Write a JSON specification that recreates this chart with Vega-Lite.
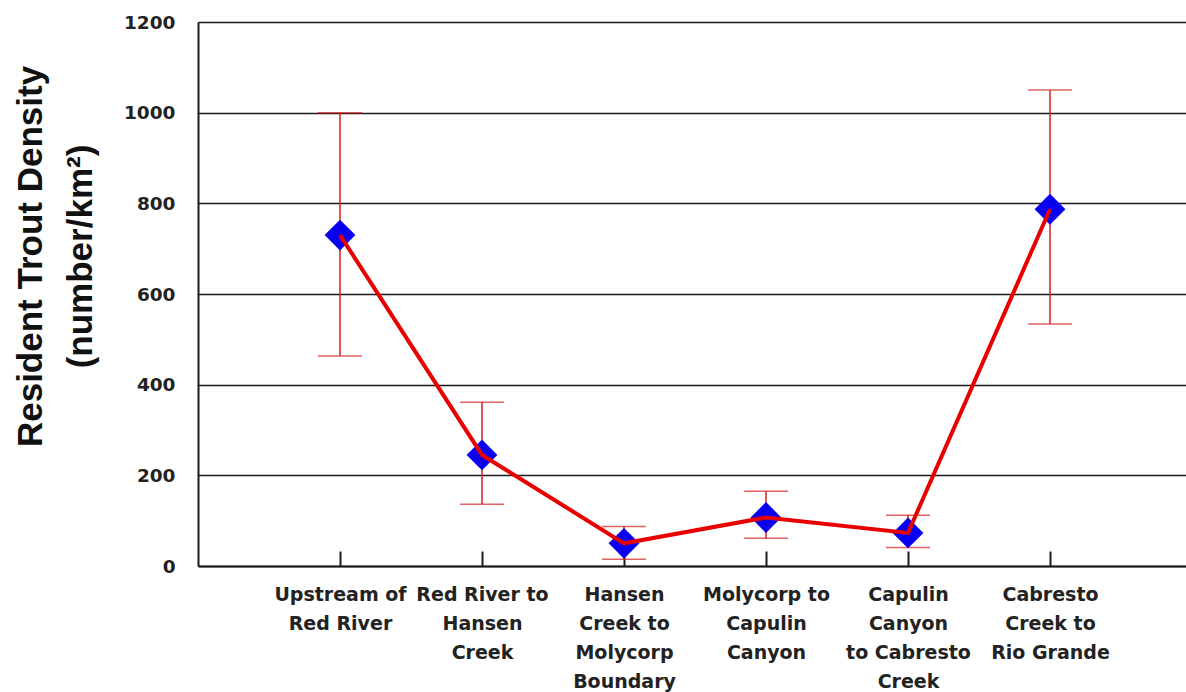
{
  "$schema": "https://vega.github.io/schema/vega-lite/v6.json",
  "width": 988,
  "height": 544,
  "autosize": "none",
  "padding": {"left": 198, "top": 22, "right": 0, "bottom": 126},
  "background": "white",
  "config": {
    "view": {"stroke": null},
    "font": "DejaVu Sans"
  },
  "data": {
    "values": [
      {"site": "Upstream of|Red River", "density": 730, "lo": 463, "hi": 1000},
      {"site": "Red River to|Hansen|Creek", "density": 245, "lo": 136, "hi": 361},
      {"site": "Hansen|Creek to|Molycorp|Boundary", "density": 50, "lo": 15, "hi": 87},
      {"site": "Molycorp to|Capulin|Canyon", "density": 107, "lo": 61, "hi": 165},
      {"site": "Capulin|Canyon|to Cabresto|Creek", "density": 73, "lo": 41, "hi": 112},
      {"site": "Cabresto|Creek to|Rio Grande", "density": 787, "lo": 534, "hi": 1050}
    ]
  },
  "encoding": {
    "x": {
      "field": "site",
      "type": "nominal",
      "sort": null,
      "scale": {"type": "point", "padding": 0.9789, "align": 0.5108},
      "axis": {
        "title": null,
        "labelExpr": "split(datum.label, '|')",
        "labelAngle": 0,
        "labelFont": "DejaVu Sans",
        "labelFontWeight": "bold",
        "labelFontSize": 19,
        "labelColor": "#222222",
        "labelLineHeight": 29,
        "labelPadding": 34,
        "labelBaseline": "top",
        "labelAlign": "center",
        "domainColor": "#1a1a1a",
        "domainWidth": 2,
        "ticks": true,
        "tickColor": "#1a1a1a",
        "tickWidth": 2,
        "tickSize": -15,
        "grid": false
      }
    }
  },
  "layer": [
    {
      "mark": {"type": "rule", "color": "#d42020", "strokeWidth": 1.5},
      "encoding": {
        "y": {
          "field": "lo",
          "type": "quantitative",
          "scale": {"domain": [0, 1200], "nice": false},
          "axis": {
            "values": [0, 200, 400, 600, 800, 1000, 1200],
            "format": "d",
            "title": ["Resident Trout Density", "(number/km²)"],
            "titleFont": "Liberation Sans",
            "titleFontWeight": "bold",
            "titleFontSize": 35,
            "titleColor": "#111111",
            "titleLineHeight": 50,
            "titlePadding": 25,
            "titleY": 234,
            "labelFont": "DejaVu Sans",
            "labelFontWeight": "bold",
            "labelFontSize": 18.5,
            "labelColor": "#222222",
            "labelPadding": 23,
            "ticks": false,
            "domainColor": "#1a1a1a",
            "domainWidth": 2,
            "grid": true,
            "gridColor": "#1a1a1a",
            "gridWidth": 1.5,
            "gridOpacity": 1
          }
        },
        "y2": {"field": "hi"}
      }
    },
    {
      "mark": {"type": "tick", "color": "#d42020", "thickness": 1.5, "size": 44},
      "encoding": {"y": {"field": "lo", "type": "quantitative"}}
    },
    {
      "mark": {"type": "tick", "color": "#d42020", "thickness": 1.5, "size": 44},
      "encoding": {"y": {"field": "hi", "type": "quantitative"}}
    },
    {
      "mark": {"type": "point", "shape": "diamond", "filled": true, "color": "#0a00f0", "size": 950, "opacity": 1},
      "encoding": {"y": {"field": "density", "type": "quantitative"}}
    },
    {
      "mark": {"type": "line", "color": "#e80000", "strokeWidth": 4},
      "encoding": {"y": {"field": "density", "type": "quantitative"}}
    }
  ]
}
